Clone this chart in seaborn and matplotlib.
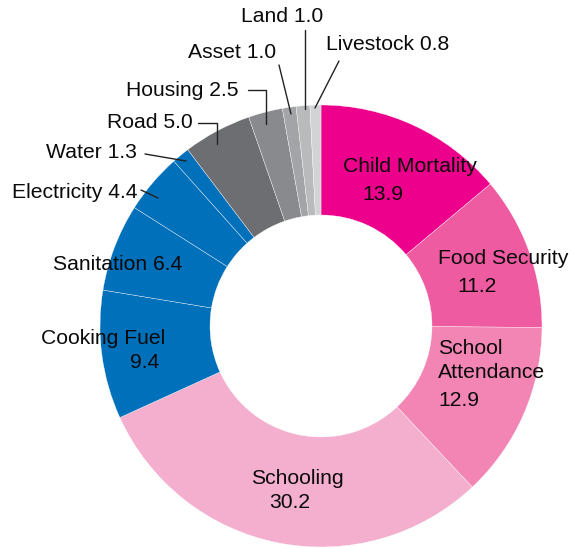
import matplotlib
matplotlib.use("Agg")
import matplotlib.pyplot as plt
import seaborn as sns

# data
categories = ["Child Mortality", "Food Security", "School Attendance", "Schooling",
              "Cooking Fuel", "Sanitation", "Electricity", "Water",
              "Road", "Housing", "Asset", "Land", "Livestock"]
values = [13.9, 11.2, 12.9, 30.2, 9.4, 6.4, 4.4, 1.3, 5.0, 2.5, 1.0, 1.0, 0.8]
colors = ["#EC008C", "#EF5BA1", "#F285B4", "#F4AECE",
          "#0070BA", "#0070BA", "#0070BA", "#0070BA",
          "#6D6E71", "#898A8D", "#A2A4A7", "#B8BABC", "#D2D3D5"]

sns.set_theme(style="white")
plt.rcParams["font.family"] = ["Liberation Sans", "DejaVu Sans"]

W, H = 571, 548
fig = plt.figure(figsize=(W / 100, H / 100), dpi=100)
ax = fig.add_axes([0, 0, 1, 1])

ax.pie(values, colors=colors, startangle=90, counterclock=False,
       center=(321, H - 326), radius=221,
       wedgeprops=dict(width=110, edgecolor="white", linewidth=0.25))
ax.set_xlim(0, W)
ax.set_ylim(0, H)
ax.set_aspect("equal")
ax.axis("off")

fs = 15.2
lab = dict(fontsize=fs, color="#0a0a0a", va="center")

def px(x, y):
    return x, H - y

# labels inside the ring
ax.text(*px(410, 167), categories[0], ha="center", **lab)
ax.text(*px(383, 194), f"{values[0]:.1f}", ha="center", **lab)
ax.text(*px(503, 259), categories[1], ha="center", **lab)
ax.text(*px(477, 286), f"{values[1]:.1f}", ha="center", **lab)
ax.text(*px(438, 349), "School", ha="left", **lab)
ax.text(*px(438, 373), "Attendance", ha="left", **lab)
ax.text(*px(438, 400), f"{values[2]:.1f}", ha="left", **lab)
ax.text(*px(297, 478), categories[3], ha="center", **lab)
ax.text(*px(290, 503), f"{values[3]:.1f}", ha="center", **lab)
ax.text(*px(103, 338), categories[4], ha="center", **lab)
ax.text(*px(145, 363), f"{values[4]:.1f}", ha="center", **lab)
ax.text(*px(118, 265), f"{categories[5]} {values[5]:.1f}", ha="center", **lab)

# outside labels with leader lines
outside = [
    (6, (137, 192), [(141, 190), (158, 198)]),
    (7, (137, 153), [(145, 154), (186, 161)]),
    (8, (193, 123), [(198, 123), (217, 123), (217, 144)]),
    (9, (239, 90), [(248, 90), (266, 90), (266, 124)]),
    (10, (276, 52), [(279, 65), (291, 114)]),
    (11, (323, 17), [(305, 30), (305, 109)]),
]
for i, (tx, ty), pts in outside:
    ax.text(*px(tx, ty), f"{categories[i]} {values[i]:.1f}", ha="right", **lab)
    ax.plot([p[0] for p in pts], [H - p[1] for p in pts], color="#222222", lw=1)

ax.text(*px(326, 45), f"{categories[12]} {values[12]:.1f}", ha="left", **lab)
ax.plot([339, 315], [H - 61, H - 108], color="#222222", lw=1)

fig.savefig("out.png", dpi=100)
